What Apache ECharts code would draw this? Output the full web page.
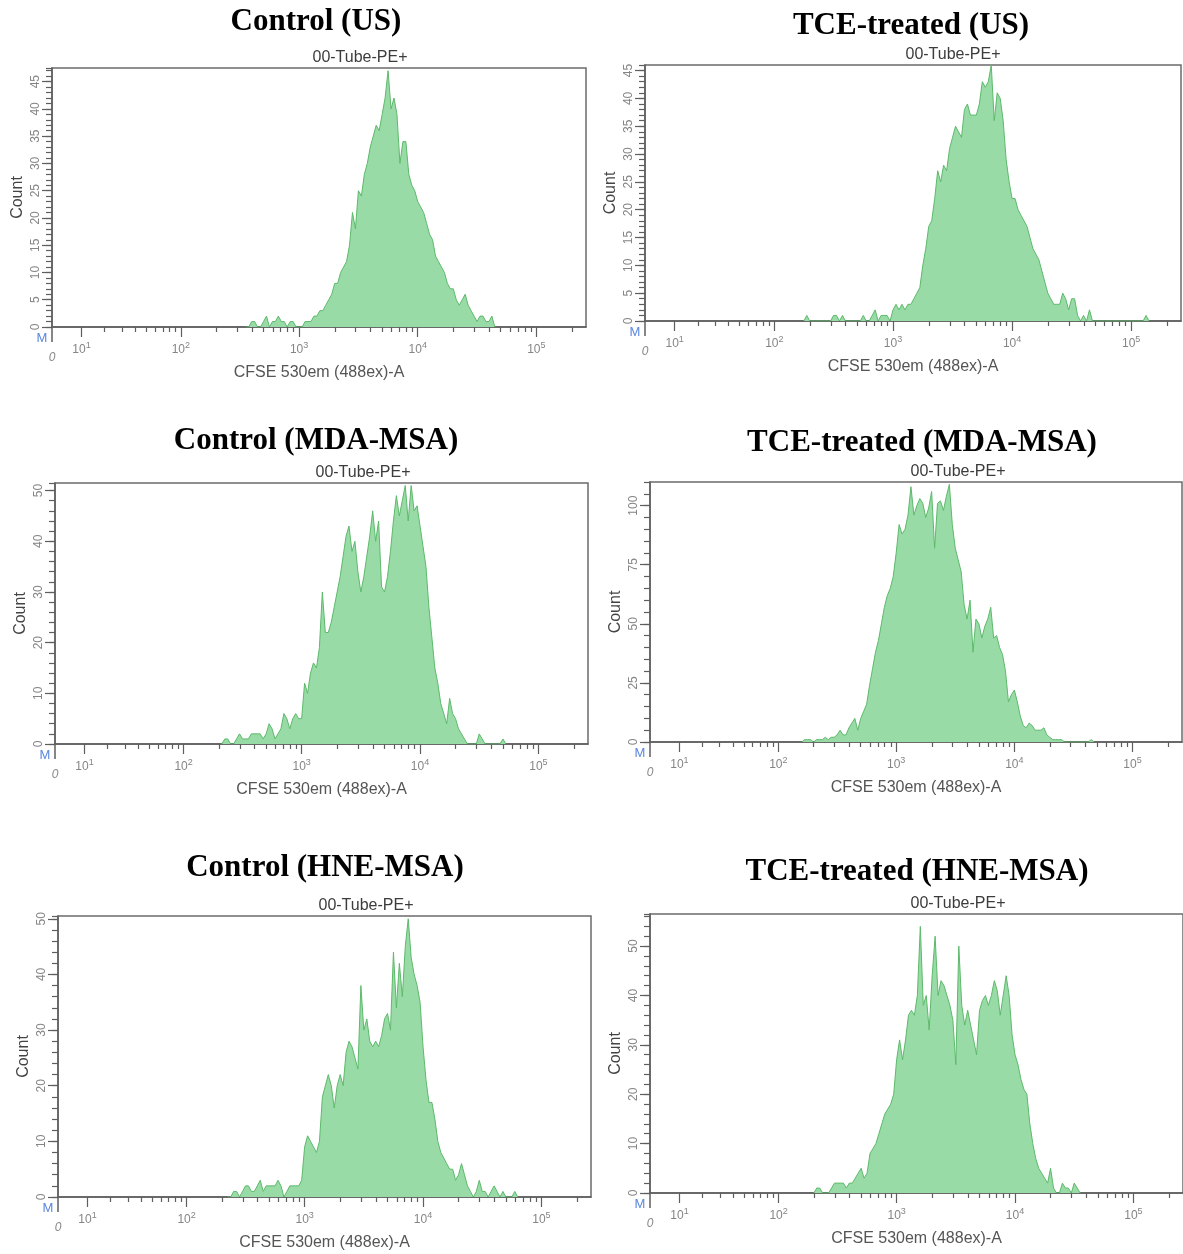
<!DOCTYPE html>
<html><head><meta charset="utf-8">
<script src="https://cdn.jsdelivr.net/npm/echarts@6/dist/echarts.min.js"></script>
<style>html,body{margin:0;padding:0;background:#fff}#c{width:1183px;height:1254px}</style>
</head><body><div id="c"></div>
<script>
// ---------------- DATA ----------------
const BIN_WIDTH = 0.025; // histogram bin width, log10(fluorescence) units

const panelTitles = ['Control (US)', 'TCE-treated (US)', 'Control (MDA-MSA)',
  'TCE-treated (MDA-MSA)', 'Control (HNE-MSA)', 'TCE-treated (HNE-MSA)'];
const tubeName = '00-Tube-PE+';
const xAxisTitle = 'CFSE 530em (488ex)-A';
const yAxisTitle = 'Count';
const decadeExponents = [1, 2, 3, 4, 5];      // x tick labels 10^1 .. 10^5
const minorMultipliers = [2, 3, 4, 5, 6, 7, 8, 9];
const zeroLabel = '0';
const markerLabel = 'M';

const yAxisMax = [47.5, 46, 51.5, 110, 50.5, 56.5];
const yMinorStep = [1, 1, 2, 5, 2, 2];
const yLabelStep = [5, 5, 10, 25, 10, 10];

// first bin centre (log10) and counts for each histogram
const usCtrlStart = 2.55;
const usCtrlCounts = [0,0,1,1,0,0,1,2,0,1,
  1,2,1,1,0,1,1,0,0,0,
  1,1,1,2,2,3,3,4,5,6,
  8,8,10,11,12,15,21,18,25,24,
  28,30,33,35,37,36,39,42,47,40,
  42,39,30,34,34,28,26,25,23,22,
  21,19,17,16,13,12,11,10,8,7,
  7,5,4,5,6,4,3,2,1,2,
  2,1,1,2,0];

const usTceStart = 2.25;
const usTceCounts = [0,1,0,0,0,0,0,0,0,0,
  1,1,0,1,0,0,0,0,0,0,
  1,0,0,1,2,0,1,1,1,0,
  2,3,2,3,2,3,3,4,5,6,
  10,13,17,18,22,27,25,28,27,31,
  33,35,34,33,38,39,37,37,37,39,
  43,42,43,46,36,41,40,36,29,25,
  22,22,20,19,18,17,15,13,12,11,
  9,7,5,4,3,3,3,5,4,2,
  4,4,1,0,1,0,2,0,0,0,
  0,0,0,0,0,0,0,0,0,0,
  0,0,0,0,0,1,0];

const mdaCtrlStart = 2.325;
const mdaCtrlCounts = [0,1,1,0,0,1,2,1,1,1,
  2,2,2,2,1,2,4,3,1,2,
  3,6,5,3,5,6,5,5,12,10,
  14,16,15,19,30,22,22,24,27,30,
  33,37,41,43,38,40,34,30,33,37,
  41,46,40,44,31,30,33,38,44,49,
  45,48,51,44,51,46,47,43,39,35,
  27,21,15,12,8,6,4,9,6,5,
  3,2,1,0,0,0,0,2,1,0,
  0,0,0,0,0,1,0];

const mdaTceStart = 2.20;
const mdaTceCounts = [0,1,1,1,0,1,1,1,2,1,2,
  2,3,5,3,3,6,8,10,5,10,
  13,16,24,31,38,43,50,57,62,65,
  70,80,92,88,90,96,108,96,100,103,
  101,95,99,106,82,101,102,98,104,109,
  92,82,77,72,58,52,60,38,52,50,
  44,49,52,57,44,45,40,37,30,17,
  20,22,17,11,7,6,8,7,5,5,
  5,6,3,2,1,1,1,1,0,0,
  0,0,0,0,0,0,0,1,0];

const hneCtrlStart = 2.35;
const hneCtrlCounts = [0,0,1,1,0,1,2,2,1,1,
  2,3,1,2,2,2,2,3,2,0,
  1,2,2,2,2,3,9,11,10,9,
  8,10,18,20,22,20,16,20,22,20,
  26,28,27,25,23,38,30,32,28,27,
  28,27,29,32,33,30,44,34,42,36,
  45,50,43,40,38,35,27,21,17,17,
  14,10,8,7,6,5,5,3,4,6,
  4,2,1,0,1,3,1,1,0,1,
  2,1,0,1,0,0,0,1,0];

const hneTceStart = 2.30;
const hneTceCounts = [0,1,1,0,0,0,1,2,2,2,
  2,1,2,2,3,4,5,3,4,8,
  9,10,12,14,16,17,18,20,27,31,
  27,31,36,37,36,40,54,38,40,33,
  44,52,40,43,42,40,38,35,26,50,
  38,34,37,34,31,28,37,39,40,38,
  40,43,41,36,40,44,40,32,28,26,
  23,21,20,14,10,7,5,4,3,2,
  5,1,0,0,2,1,1,0,2,1,0];

const histStarts = [usCtrlStart, usTceStart, mdaCtrlStart, mdaTceStart, hneCtrlStart, hneTceStart];
const histCounts = [usCtrlCounts, usTceCounts, mdaCtrlCounts, mdaTceCounts, hneCtrlCounts, hneTceCounts];

// ---------------- LAYOUT (pixels) ----------------
const boxes = [ // left, top, right, bottom of each plot frame
  [52, 68, 586, 327],
  [645, 65, 1181, 321],
  [55, 483, 588, 744],
  [650, 482, 1182, 742],
  [58, 916, 591, 1197],
  [650, 914, 1183, 1193]
];
const titleCentres = [[316, 22], [911, 26], [316, 441], [922, 443], [325, 868], [917, 872]];

// ---------------- SCALE (biexponential-like display transform) ----------------
const W = 8.26;
const biex = v => Math.log10(W) + Math.asinh(v / (2 * W)) / Math.LN10;
const AX_MIN = biex(0), AX_MAX = biex(262144);
const minorTickVals = [];
decadeExponents.forEach(e => { if (e < 5) minorMultipliers.forEach(m => minorTickVals.push(biex(m * Math.pow(10, e)))); });
minorTickVals.push(biex(2e5));
const labelVals = decadeExponents.map(e => biex(Math.pow(10, e)));

const AXIS_COLOR = '#5e5e5e';
const LABEL_COLOR = '#858585';
const grids = [], xAxes = [], yAxes = [], series = [], graphics = [];

boxes.forEach((b, i) => {
  const [l, t, r, bt] = b;
  grids.push({ left: l, top: t, width: r - l, height: bt - t, show: true, borderColor: '#6b6b6b',
    borderWidth: 1.5, backgroundColor: '#fff', containLabel: false, outerBoundsMode: 'none' });
  const xBase = { type: 'value', gridIndex: i, min: AX_MIN, max: AX_MAX, position: 'bottom', splitLine: { show: false } };
  // minor ticks + axis line (series axis)
  xAxes.push(Object.assign({}, xBase, {
    axisLine: { show: true, onZero: false, lineStyle: { color: AXIS_COLOR, width: 1.5 } },
    axisTick: { show: true, customValues: minorTickVals, length: 5, lineStyle: { color: AXIS_COLOR, width: 1.2 } },
    axisLabel: { show: false } }));
  // decade ticks + labels + name
  xAxes.push(Object.assign({}, xBase, {
    axisLine: { show: false, onZero: false },
    axisTick: { show: true, customValues: labelVals, length: 10, lineStyle: { color: AXIS_COLOR, width: 1.2 } },
    axisLabel: { show: true, customValues: labelVals, margin: 14,
      formatter: v => {
        let k = 0, d = 1e9;
        labelVals.forEach((lv, j) => { if (Math.abs(lv - v) < d) { d = Math.abs(lv - v); k = j; } });
        return '{b|10}{s|' + decadeExponents[k] + '}';
      },
      rich: { b: { fontSize: 12, color: LABEL_COLOR, fontFamily: 'Liberation Sans' },
              s: { fontSize: 9, color: LABEL_COLOR, fontFamily: 'Liberation Sans', padding: [0, 0, 9, 0] } } },
    name: xAxisTitle, nameLocation: 'middle', nameGap: 38,
    nameTextStyle: { fontSize: 16, color: '#555', fontFamily: 'Liberation Sans' } }));
  // left frame line continued below the axis at zero
  xAxes.push(Object.assign({}, xBase, {
    axisLine: { show: false, onZero: false },
    axisTick: { show: true, customValues: [AX_MIN], length: 15, lineStyle: { color: AXIS_COLOR, width: 1.5 } },
    axisLabel: { show: false } }));

  const yBase = { type: 'value', gridIndex: i, min: 0, max: yAxisMax[i], position: 'left', splitLine: { show: false } };
  // minor ticks (series axis)
  yAxes.push(Object.assign({}, yBase, { interval: yMinorStep[i],
    axisLine: { show: true, lineStyle: { color: AXIS_COLOR, width: 1.5 } },
    axisTick: { show: true, length: 6, lineStyle: { color: AXIS_COLOR, width: 1.2 } },
    axisLabel: { show: false } }));
  // major ticks + labels + name
  yAxes.push(Object.assign({}, yBase, { interval: yLabelStep[i],
    axisLine: { show: false },
    axisTick: { show: true, length: 10, lineStyle: { color: AXIS_COLOR, width: 1.2 } },
    axisLabel: { rotate: 90, margin: 10, fontSize: 12, color: LABEL_COLOR, fontFamily: 'Liberation Sans',
      showMaxLabel: false },
    name: yAxisTitle, nameLocation: 'middle', nameGap: 26, nameRotate: 90,
    nameTextStyle: { fontSize: 16, color: '#444', fontFamily: 'Liberation Sans' } }));

  const start = histStarts[i];
  series.push({ type: 'line', xAxisIndex: 3 * i, yAxisIndex: 2 * i, symbol: 'none', showSymbol: false,
    animation: false, silent: true,
    lineStyle: { color: '#5db96b', width: 1 },
    areaStyle: { color: '#98dba6', opacity: 1 },
    data: histCounts[i].map((c, k) => [biex(Math.pow(10, start + k * BIN_WIDTH)), c]) });

  const tc = titleCentres[i];
  graphics.push({ type: 'text', x: tc[0], y: tc[1], style: { text: panelTitles[i], fill: '#000',
    font: 'bold 31px "Liberation Serif", "Times New Roman", serif', align: 'center', verticalAlign: 'middle' } });
  graphics.push({ type: 'text', x: l + 308, y: t - 10, style: { text: tubeName, fill: '#3c3c3c',
    font: '16px "Liberation Sans", Arial, sans-serif', align: 'center', verticalAlign: 'middle' } });
  graphics.push({ type: 'text', x: l - 10, y: bt + 11, style: { text: markerLabel, fill: '#5b86e0',
    font: '13px "Liberation Sans", Arial, sans-serif', align: 'center', verticalAlign: 'middle' } });
  graphics.push({ type: 'text', x: l, y: bt + 31, style: { text: zeroLabel, fill: '#8a8a8a',
    font: 'italic 12px "Liberation Sans", Arial, sans-serif', align: 'center', verticalAlign: 'middle' } });
});

const chart = echarts.init(document.getElementById('c'));
chart.setOption({
  backgroundColor: '#ffffff',
  animation: false,
  grid: grids, xAxis: xAxes, yAxis: yAxes, series: series, graphic: graphics
});
</script></body></html>
